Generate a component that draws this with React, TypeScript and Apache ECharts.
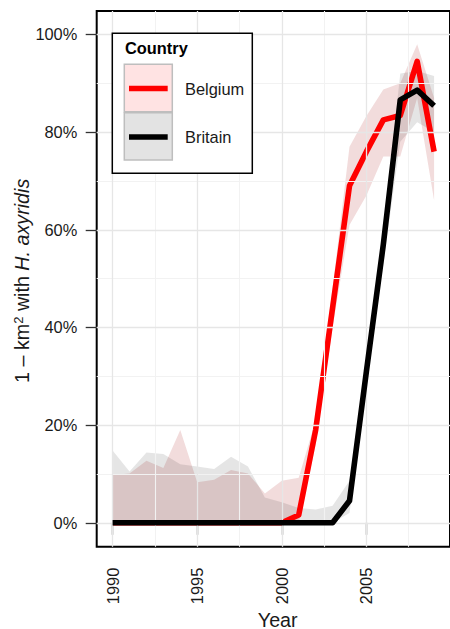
import React, { useEffect, useRef } from "react";
import * as echarts from "echarts";

const years = [1990, 1991, 1992, 1993, 1994, 1995, 1996, 1997, 1998, 1999, 2000, 2001, 2002, 2003, 2004, 2005, 2006, 2007, 2008, 2009];
const belgium = [0, 0, 0, 0, 0, 0, 0, 0, 0, 0, 0, 0.016, 0.19, 0.44, 0.69, 0.76, 0.825, 0.834, 0.945, 0.76];
const belgiumLower = [0, 0, 0, 0, 0, 0, 0, 0, 0, 0, 0, 0, 0.16, 0.4, 0.61, 0.67, 0.75, 0.75, 0.87, 0.66];
const belgiumUpper = [0.098, 0.101, 0.127, 0.112, 0.19, 0.083, 0.088, 0.108, 0.101, 0.06, 0.086, 0.092, 0.21, 0.48, 0.77, 0.833, 0.887, 0.9, 0.98, 0.87];
const britain = [0, 0, 0, 0, 0, 0, 0, 0, 0, 0, 0, 0, 0, 0, 0.045, 0.31, 0.57, 0.866, 0.886, 0.854];
const britainLower = [0, 0, 0, 0, 0, 0, 0, 0, 0, 0, 0, 0, 0, 0, 0.02, 0.28, 0.53, 0.78, 0.82, 0.8];
const britainUpper = [0.148, 0.105, 0.144, 0.141, 0.12, 0.115, 0.11, 0.135, 0.115, 0.052, 0.042, 0.03, 0.027, 0.035, 0.086, 0.33, 0.6, 0.92, 0.925, 0.915];

const xTicks = [1990, 1995, 2000, 2005];
const xMinor = [1992.5, 1997.5, 2002.5, 2007.5];
const yTicks = [0, 0.2, 0.4, 0.6, 0.8, 1.0];
const yMinor = [0.1, 0.3, 0.5, 0.7, 0.9];
const countries = ["Belgium", "Britain"];

const FONT = "'Liberation Sans', Arial, Helvetica, sans-serif";
const TEXT = "#1a1a1a";
const LINE_W = 5.6;

function ribbonSeries(name: string, lower: number[], upper: number[], fill: string, z: number) {
  return {
    type: "custom",
    name,
    z,
    silent: true,
    clip: true,
    data: [[years[0], lower[0]]],
    encode: { x: 0, y: 1 },
    renderItem: (_params: any, api: any) => {
      const pts: number[][] = [];
      for (let i = 0; i < years.length; i++) pts.push(api.coord([years[i], lower[i]]));
      for (let i = years.length - 1; i >= 0; i--) pts.push(api.coord([years[i], upper[i]]));
      return {
        type: "polygon",
        shape: { points: pts, smooth: 0 },
        style: { fill, stroke: null, lineWidth: 0 },
      };
    },
  };
}

export default function App() {
  const ref = useRef<HTMLDivElement>(null);
  useEffect(() => {
    document.body.style.margin = "0";
    if (!ref.current) return;
    const chart = echarts.init(ref.current, null, { renderer: "svg" });
    const pairs = (arr: number[]) => years.map((y, i) => [y, arr[i]]);
    const major = { color: "#e6e6e6", width: 1.3, type: "solid" as const };
    const minor = { color: "#f2f2f2", width: 1.1, type: "solid" as const };
    const gridLines = [
      ...xMinor.map((v) => ({ xAxis: v, lineStyle: minor })),
      ...yMinor.map((v) => ({ yAxis: v, lineStyle: minor })),
      ...xTicks.map((v) => ({ xAxis: v, lineStyle: major })),
      ...yTicks.map((v) => ({ yAxis: v, lineStyle: major })),
    ];
    const G = 50;
    const option: any = {
      animation: false,
      grid: {
        left: 96.7,
        top: 11,
        width: 357.3,
        height: 535.7,
        show: true,
        borderColor: "#000",
        borderWidth: 2,
        backgroundColor: "transparent",
      },
      xAxis: {
        type: "value",
        min: 1989.06,
        max: 2009.94,
        axisLine: { show: false },
        splitLine: { show: false },
        axisTick: {
          show: true,
          length: 12,
          customValues: xTicks,
          lineStyle: { color: "#333", width: 1.3 },
        },
        axisLabel: {
          customValues: xTicks,
          rotate: 90,
          margin: 21,
          fontSize: 16.4,
          fontFamily: FONT,
          color: TEXT,
          formatter: (v: number) => String(v),
        },
      },
      yAxis: {
        type: "value",
        min: -0.049,
        max: 1.048,
        axisLine: { show: false },
        splitLine: { show: false },
        axisTick: {
          show: true,
          length: 11,
          customValues: yTicks,
          lineStyle: { color: "#333", width: 1.3 },
        },
        axisLabel: {
          customValues: yTicks,
          margin: 19.4,
          fontSize: 16.4,
          fontFamily: FONT,
          color: TEXT,
          formatter: (v: number) => Math.round(v * 100) + "%",
        },
      },
      series: [
        {
          type: "line",
          name: "grid",
          data: [],
          z: 1,
          silent: true,
          markLine: {
            silent: true,
            symbol: "none",
            label: { show: false },
            emphasis: { disabled: true },
            data: gridLines,
          },
        },
        ribbonSeries("belgiumRibbon", belgiumLower, belgiumUpper, "rgba(170,20,20,0.15)", 2),
        ribbonSeries("britainRibbon", britainLower, britainUpper, "rgba(0,0,0,0.1)", 3),
        {
          type: "line",
          name: countries[0],
          data: pairs(belgium),
          showSymbol: false,
          symbol: "none",
          lineStyle: { color: "#ff0000", width: LINE_W, join: "round", cap: "butt" },
          z: 4,
        },
        {
          type: "line",
          name: countries[1],
          data: pairs(britain),
          showSymbol: false,
          symbol: "none",
          lineStyle: { color: "#000000", width: LINE_W, join: "round", cap: "butt" },
          z: 5,
        },
      ],
      graphic: [
        {
          type: "text",
          x: 22,
          y: 280.8,
          rotation: Math.PI / 2,
          z: G,
          style: {
            text: "{n|1 – km}{s|2}{n| with }{i|H. axyridis}",
            align: "center",
            verticalAlign: "middle",
            fill: TEXT,
            rich: {
              n: { fontSize: 19.7, fontFamily: FONT, fill: TEXT },
              s: { fontSize: 13, fontFamily: FONT, fill: TEXT, verticalAlign: "top", lineHeight: 20 },
              i: { fontSize: 19.7, fontFamily: FONT, fontStyle: "italic", fill: TEXT },
            },
          },
        },
        {
          type: "text",
          x: 277.7,
          y: 619.5,
          z: G,
          style: {
            text: "Year",
            align: "center",
            verticalAlign: "middle",
            fontSize: 19.7,
            fontFamily: FONT,
            fill: TEXT,
          },
        },
        {
          type: "rect",
          z: G,
          shape: { x: 112.3, y: 33.3, width: 140, height: 140 },
          style: { fill: "#ffffff", stroke: "#000", lineWidth: 1.5 },
        },
        {
          type: "text",
          z: G + 1,
          x: 125,
          y: 47.5,
          style: {
            text: "Country",
            fontSize: 16.4,
            fontWeight: "bold",
            fontFamily: FONT,
            fill: "#000",
            verticalAlign: "middle",
          },
        },
        {
          type: "rect",
          z: G + 1,
          shape: { x: 124.3, y: 64.3, width: 48, height: 47.4 },
          style: { fill: "#ffe3e3", stroke: "#bebebe", lineWidth: 1.5 },
        },
        {
          type: "rect",
          z: G + 1,
          shape: { x: 124.3, y: 112.7, width: 48, height: 47.4 },
          style: { fill: "#e3e3e3", stroke: "#bebebe", lineWidth: 1.5 },
        },
        {
          type: "line",
          z: G + 2,
          shape: { x1: 129, y1: 88.5, x2: 167.7, y2: 88.5 },
          style: { stroke: "#ff0000", lineWidth: 5.3 },
        },
        {
          type: "line",
          z: G + 2,
          shape: { x1: 129, y1: 137, x2: 167.7, y2: 137 },
          style: { stroke: "#000000", lineWidth: 5.3 },
        },
        {
          type: "text",
          z: G + 1,
          x: 185,
          y: 89.3,
          style: {
            text: countries[0],
            fontSize: 16.4,
            fontFamily: FONT,
            fill: TEXT,
            verticalAlign: "middle",
          },
        },
        {
          type: "text",
          z: G + 1,
          x: 185,
          y: 137,
          style: {
            text: countries[1],
            fontSize: 16.4,
            fontFamily: FONT,
            fill: TEXT,
            verticalAlign: "middle",
          },
        },
      ],
    };
    chart.setOption(option);
    return () => chart.dispose();
  }, []);
  return <div ref={ref} style={{ width: 450, height: 629 }} />;
}
